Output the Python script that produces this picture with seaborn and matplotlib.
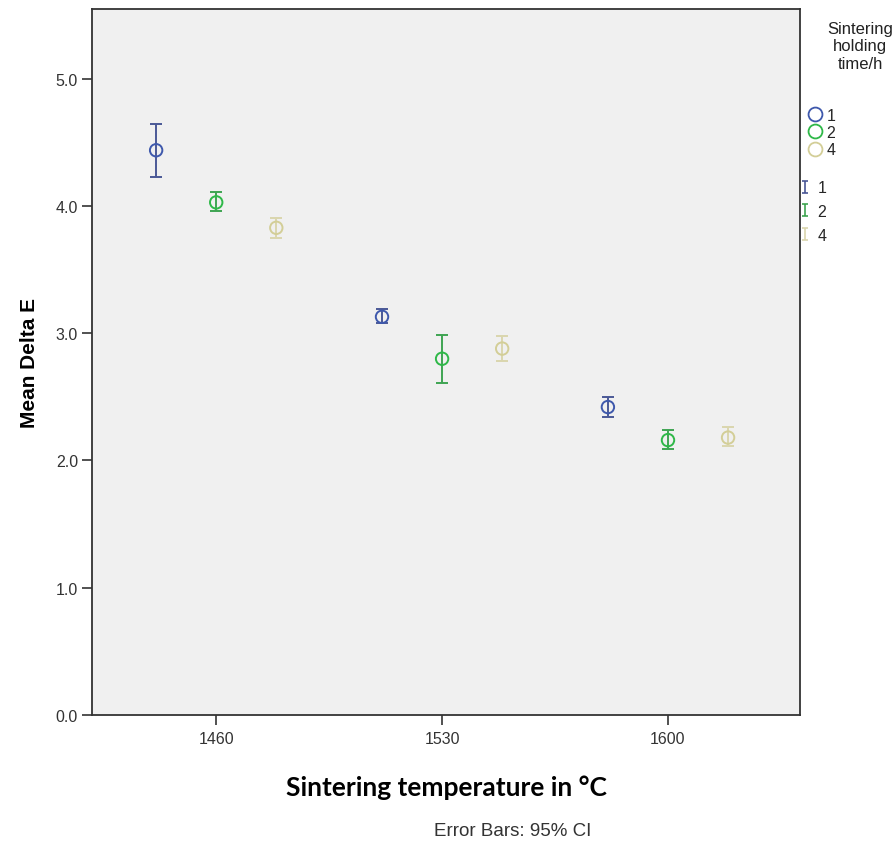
import numpy as np
import pandas as pd
import matplotlib
matplotlib.use("Agg")
import matplotlib.pyplot as plt
from matplotlib.lines import Line2D
from matplotlib.path import Path
import seaborn as sns

# data (mean Delta E with 95% CI)
temperatures = ["1460", "1530", "1600"]
holding_times = ["1", "2", "4"]
mean_h1 = [4.44, 3.13, 2.42]
mean_h2 = [4.03, 2.80, 2.16]
mean_h4 = [3.83, 2.88, 2.18]
lo_h1 = [4.23, 3.08, 2.34]
lo_h2 = [3.96, 2.61, 2.09]
lo_h4 = [3.75, 2.78, 2.11]
hi_h1 = [4.65, 3.19, 2.50]
hi_h2 = [4.11, 2.99, 2.24]
hi_h4 = [3.91, 2.98, 2.26]

colors = ["#3E58AC", "#2EB848", "#D3CE97"]
bar_colors = ["#4A5896", "#3FA452", "#DAD6AE"]

rows = []
for h, m, lo, hi in zip(holding_times, [mean_h1, mean_h2, mean_h4],
                        [lo_h1, lo_h2, lo_h4], [hi_h1, hi_h2, hi_h4]):
    for i, t in enumerate(temperatures):
        rows.append({"temp": t, "idx": i, "hold": h, "mean": m[i], "lo": lo[i], "hi": hi[i]})
df = pd.DataFrame(rows)
dodge = {"1": -0.266, "2": 0.0, "4": 0.266}
df["x"] = df["idx"] + df["hold"].map(dodge)

sns.set_theme(style="white")
plt.rcParams["font.family"] = ["Liberation Sans", "DejaVu Sans"]

fig = plt.figure(figsize=(8.93, 8.45), dpi=100)
ax = fig.add_axes([0.103, 0.153, 0.793, 0.835])
ax.set_facecolor("#F0F0F0")

for h, c, bc in zip(holding_times, colors, bar_colors):
    d = df[df["hold"] == h]
    ax.errorbar(d["x"], d["mean"], yerr=[d["mean"] - d["lo"], d["hi"] - d["mean"]],
                fmt="none", ecolor=bc, elinewidth=1.4, capsize=4.5, capthick=1.4, zorder=2)

sns.scatterplot(data=df, x="x", y="mean", hue="hold", palette=colors, ax=ax,
                marker="o", s=80, facecolor="none", linewidth=1.4, legend=False, zorder=3)
# hollow circles: set edge colours from palette
coll = ax.collections[-1]
coll.set_facecolor("none")
coll.set_edgecolor([colors[holding_times.index(h)] for h in df["hold"]])

ax.set_xlim(-0.55, 2.585)
ax.set_ylim(0, 5.55)
ax.set_xticks(range(len(temperatures)))
ax.set_xticklabels(temperatures)
ax.set_yticks([0, 1, 2, 3, 4, 5])
ax.set_yticklabels(["0.0", "1.0", "2.0", "3.0", "4.0", "5.0"])
ax.tick_params(axis="both", direction="out", length=7, width=1.2, color="#333333",
               labelsize=11.5, labelcolor="#333333", pad=3, bottom=True, left=True)
ax.tick_params(axis="x", pad=5)
for s in ax.spines.values():
    s.set_color("#333333")
    s.set_linewidth(1.3)

ax.set_ylabel("Mean Delta E", fontsize=15, fontweight="bold", color="black", labelpad=12)
ax.set_xlabel("Sintering temperature in °C", fontsize=19, fontweight="bold", color="black",
              family=["Lato", "DejaVu Sans"], labelpad=20)
fig.text(0.574, 0.006, "Error Bars: 95% CI", ha="center", va="bottom",
         fontsize=13.5, color="#333333")

# legends at the right
fig.text(0.963, 0.974, "Sintering\nholding\ntime/h", ha="center", va="top",
         fontsize=12, color="#222222", linespacing=1.2)
circ_handles = [Line2D([], [], marker="o", linestyle="none", markersize=10,
                       markerfacecolor="none", markeredgecolor=c, markeredgewidth=1.3)
                for c in colors]
leg1 = fig.legend(circ_handles, holding_times, loc="upper left", bbox_to_anchor=(0.897, 0.881),
                  frameon=False, fontsize=11.5, handlelength=0.8, handletextpad=0.3,
                  labelspacing=0.15, borderpad=0)
ibar = Path([(-0.5, 1), (0.5, 1), (0, 1), (0, -1), (-0.5, -1), (0.5, -1)],
            [Path.MOVETO, Path.LINETO, Path.MOVETO, Path.LINETO, Path.MOVETO, Path.LINETO])
bar_handles = [Line2D([], [], marker=ibar, linestyle="none", markersize=8,
                      markerfacecolor="none", markeredgecolor=c, markeredgewidth=1.2)
               for c in bar_colors]
leg2 = fig.legend(bar_handles, holding_times, loc="upper left", bbox_to_anchor=(0.887, 0.795),
                  frameon=False, fontsize=11.5, handlelength=0.6, handletextpad=0.5,
                  labelspacing=0.55, borderpad=0)

fig.savefig("out.png", dpi=100)
